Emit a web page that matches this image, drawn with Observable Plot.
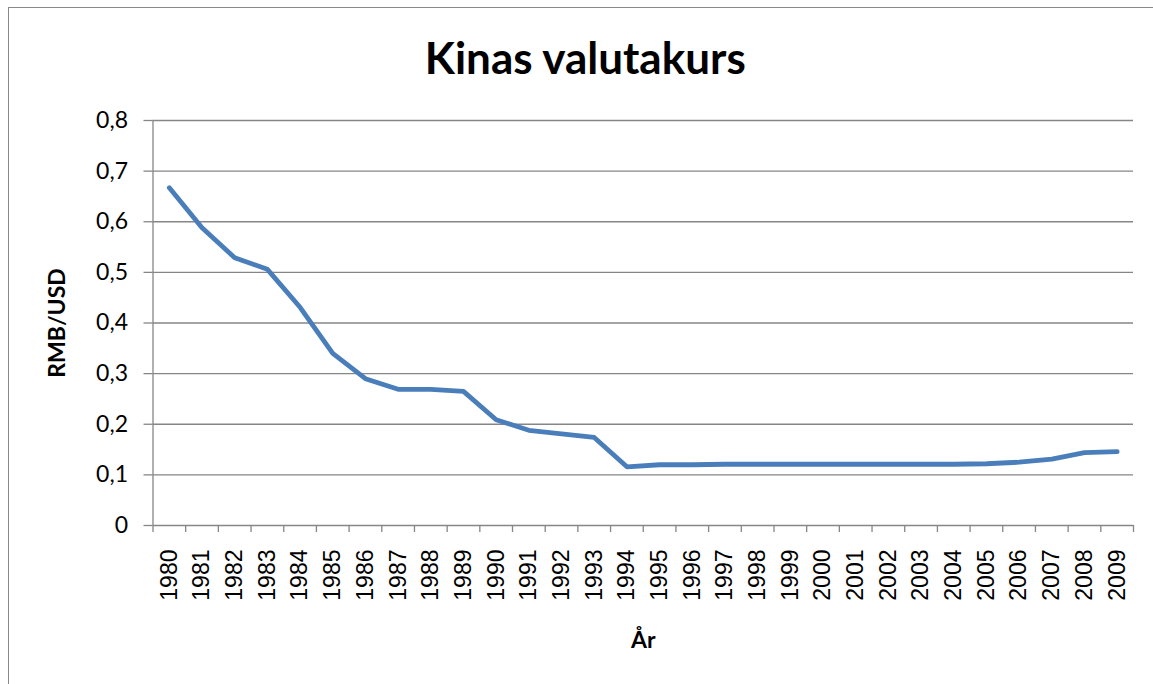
<!DOCTYPE html>
<html>
<head>
<meta charset="utf-8">
<script src="https://cdn.jsdelivr.net/npm/d3@7"></script>
<script src="https://cdn.jsdelivr.net/npm/@observablehq/plot@0.6"></script>
<style>
  html, body { margin: 0; padding: 0; background: #fff; }
  #wrap { position: relative; width: 1153px; height: 684px; overflow: hidden; }
  #border { position: absolute; left: 8px; top: 7px; width: 1200px; height: 800px; border: 1px solid #888; box-sizing: border-box; }
  #chart { position: absolute; left: 0; top: 0; }
</style>
</head>
<body>
<div id="wrap"><div id="border"></div><div id="chart"></div></div>
<script>
const title = "Kinas valutakurs";
const yLabel = "RMB/USD";
const xLabel = "År";
const years = [1980,1981,1982,1983,1984,1985,1986,1987,1988,1989,1990,1991,1992,1993,1994,1995,1996,1997,1998,1999,2000,2001,2002,2003,2004,2005,2006,2007,2008,2009];
const rates = [0.667,0.588,0.529,0.506,0.431,0.340,0.290,0.269,0.269,0.265,0.209,0.188,0.181,0.174,0.116,0.120,0.120,0.121,0.121,0.121,0.121,0.121,0.121,0.121,0.121,0.122,0.125,0.131,0.144,0.146];
const yTicks = [0,0.1,0.2,0.3,0.4,0.5,0.6,0.7,0.8];

const data = years.map((y, i) => ({year: y, rate: rates[i]}));
const bounds = years.map(y => y - 0.5).concat([years[years.length - 1] + 0.5]);
const fmtY = d => d === 0 ? "0" : d.toFixed(1).replace(".", ",");
const grey = "#868686";

const chart = Plot.plot({
  width: 1153,
  height: 684,
  marginTop: 120,
  marginLeft: 152.5,
  marginRight: 20,
  marginBottom: 159,
  style: {background: "transparent", overflow: "visible"},
  x: {type: "linear", domain: [bounds[0], bounds[bounds.length - 1]]},
  y: {domain: [0, 0.8]},
  marks: [
    Plot.gridY(yTicks, {stroke: grey, strokeOpacity: 1, strokeWidth: 1.3}),
    Plot.axisY(yTicks, {tickSize: 9, tickPadding: 16, tickFormat: fmtY, stroke: grey, strokeWidth: 1.3,
      fontSize: 23, fontFamily: "Lato", fill: "#000", label: null}),
    Plot.ruleX([bounds[0]], {stroke: grey, strokeWidth: 1.3}),
    Plot.axisX(bounds, {tickSize: 7, tickFormat: () => "", stroke: grey, strokeWidth: 1.3, label: null}),
    Plot.axisX(years, {tickSize: 0, tickPadding: 24, tickRotate: -90, tickFormat: d => String(d),
      fontSize: 23, fontFamily: "Liberation Sans", fill: "#000", label: null}),
    Plot.line(data, {x: "year", y: "rate", stroke: "#4A7EBB", strokeWidth: 4.8, strokeLinecap: "round", strokeLinejoin: "round"}),
    Plot.text([title], {frameAnchor: "top", lineAnchor: "top", dx: -58, dy: -78, text: d => d, fontSize: 44, fontWeight: "bold", fontFamily: "Lato", fill: "#000"}),
    Plot.text([yLabel], {frameAnchor: "left", textAnchor: "middle", lineAnchor: "middle", dx: -95, rotate: -90, text: d => d, fontSize: 23, fontWeight: "bold", fontFamily: "Lato", fill: "#000"}),
    Plot.text([xLabel], {frameAnchor: "bottom", lineAnchor: "middle", dy: 115, text: d => d, fontSize: 23, fontWeight: "bold", fontFamily: "Lato", fill: "#000"})
  ]
});
document.getElementById("chart").appendChild(chart);
</script>
</body>
</html>
